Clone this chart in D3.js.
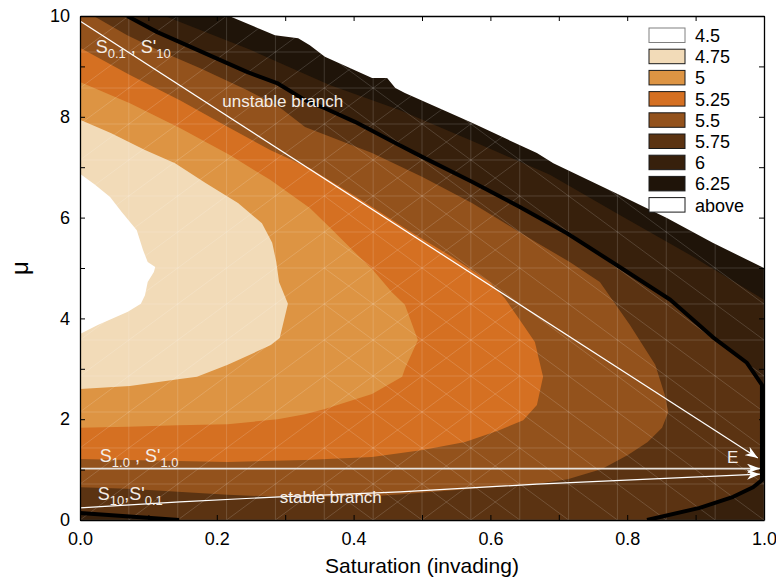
<!DOCTYPE html>
<html>
<head>
<meta charset="utf-8">
<script src="https://cdn.jsdelivr.net/npm/d3@7"></script>
<style>
  body { margin: 0; background: #fff; }
  svg { display: block; font-family: Arial, "Liberation Sans", Helvetica, sans-serif; }
</style>
</head>
<body>
<svg id="chart" width="776" height="581"></svg>
<script>
// legend classes (upper limits of each band)
const levels = ["4.5", "4.75", "5", "5.25", "5.5", "5.75", "6", "6.25", "above"];
const levelColors = ["#ffffff", "#f2dbb8", "#dd9443", "#d57022", "#93521c", "#5b3312", "#37200c", "#1f1409", "#ffffff"];

// ticks
const xTicks = [0, 0.1, 0.2, 0.3, 0.4, 0.5, 0.6, 0.7, 0.8, 0.9, 1.0];
const xLabels = [0, 0.2, 0.4, 0.6, 0.8, 1.0];
const yTicks = [0, 1, 2, 3, 4, 5, 6, 7, 8, 9, 10];
const yLabels = [0, 2, 4, 6, 8, 10];

// triangulation mesh nodes
const meshX = [0, 0.0714, 0.1429, 0.2143, 0.2857, 0.3571, 0.4286, 0.5, 0.5714, 0.6429, 0.7143, 0.7857, 0.8571, 0.9286, 1.0];
const meshY = [0, 0.714, 1.429, 2.143, 2.857, 3.571, 4.286, 5, 5.714, 6.429, 7.143, 7.857, 8.571, 9.286, 10];

// upper edge of the computed domain (white beyond)
const domainTop = [[0.218, 10], [0.285, 9.62], [0.319, 9.56], [0.336, 9.42], [0.358, 9.19], [0.427, 8.77],
  [0.449, 8.77], [0.461, 8.57], [0.475, 8.47], [0.573, 7.88], [0.668, 7.28], [0.692, 7.08], [0.789, 6.45],
  [0.858, 5.99], [0.925, 5.5], [1.0, 5.0]];

// contour 6 / 6.25
const edge6 = [[0.124, 10], [0.249, 9.33], [0.365, 8.63], [0.468, 8.13], [0.57, 7.54], [0.687, 6.85],
  [0.789, 6.05], [0.892, 5.26], [1.0, 4.37]];

// contour 5.75 / 6 (thick black line)
const edge575 = [[0.069, 10], [0.113, 9.68], [0.244, 8.89], [0.288, 8.67], [0.329, 8.33], [0.358, 8.17],
  [0.402, 7.9], [0.461, 7.48], [0.501, 7.2], [0.573, 6.71], [0.643, 6.21], [0.712, 5.69], [0.789, 5.02],
  [0.863, 4.37], [0.925, 3.63], [0.975, 3.12], [0.997, 2.68], [0.997, 0.79], [0.984, 0.65], [0.955, 0.46],
  [0.906, 0.24], [0.829, 0]];
const edge575Low = [[0, 0.14], [0.145, 0]];

// contour 5.5 / 5.75
const edge55 = [[0.02, 10], [0.069, 9.62], [0.113, 9.33], [0.175, 8.97], [0.244, 8.53], [0.288, 8.23],
  [0.329, 7.8], [0.427, 7.28], [0.5, 6.81], [0.573, 6.29], [0.668, 5.5], [0.716, 5.12], [0.76, 4.72],
  [0.804, 3.87], [0.841, 3.08], [0.855, 2.48], [0.86, 2.14], [0.851, 1.83], [0.83, 1.55], [0.801, 1.29],
  [0.763, 1.01], [0.713, 0.81], [0.665, 0.71], [0.573, 0.62], [0.5, 0.54], [0.439, 0.48], [0.365, 0.46],
  [0.289, 0.46], [0.216, 0.5], [0.143, 0.56], [0.07, 0.62], [0, 0.65]];

// contour 5.25 / 5.5
const edge525 = [[0, 9.37], [0.073, 8.83], [0.146, 8.33], [0.219, 7.78], [0.278, 7.34], [0.336, 6.98],
  [0.409, 6.37], [0.482, 5.73], [0.544, 5.22], [0.599, 4.72], [0.621, 4.4], [0.643, 3.97], [0.665, 3.53],
  [0.677, 2.84], [0.668, 2.28], [0.648, 1.98], [0.611, 1.77], [0.563, 1.55], [0.501, 1.39], [0.427, 1.25],
  [0.329, 1.19], [0.216, 1.15], [0.143, 1.17], [0.07, 1.19], [0, 1.21]];

// contour 5 / 5.25
const edge5 = [[0, 8.69], [0.073, 8.27], [0.146, 7.78], [0.219, 7.24], [0.278, 6.75], [0.336, 6.19],
  [0.365, 5.81], [0.398, 5.36], [0.427, 4.98], [0.456, 4.52], [0.475, 4.27], [0.494, 3.57], [0.475, 3.0],
  [0.471, 2.84], [0.427, 2.5], [0.358, 2.2], [0.329, 2.1], [0.289, 2.0], [0.216, 1.9], [0.143, 1.88],
  [0.07, 1.85], [0, 1.83]];

// contour 4.75 / 5
const edge475 = [[0, 7.94], [0.045, 7.68], [0.095, 7.34], [0.139, 7.08], [0.183, 6.69], [0.231, 6.29],
  [0.266, 5.89], [0.281, 5.5], [0.287, 5.12], [0.291, 4.72], [0.304, 4.29], [0.292, 3.61], [0.279, 3.47],
  [0.216, 3.08], [0.171, 2.84], [0.146, 2.8], [0.073, 2.66], [0, 2.6]];

// contour 4.5 / 4.75
const edge45 = [[0, 6.87], [0.022, 6.65], [0.044, 6.41], [0.061, 6.11], [0.083, 5.75], [0.092, 5.36],
  [0.099, 5.12], [0.11, 5.02], [0.108, 4.92], [0.099, 4.72], [0.095, 4.46], [0.089, 4.29], [0.07, 4.13],
  [0.026, 3.87], [0, 3.69]];

// branches
const unstableBranch = [[0, 9.9], [0.991, 1.23]];
const midBranch = [[0, 1.02], [0.994, 1.02]];
const stableBranch = [[0, 0.24], [0.146, 0.36], [0.292, 0.46], [0.468, 0.56], [0.668, 0.71], [0.994, 0.91]];

const svg = d3.select("#chart");
const x = d3.scaleLinear().domain([0, 1]).range([80, 764]);
const y = d3.scaleLinear().domain([0, 10]).range([520, 16]);
const line = d3.line().x((d) => x(d[0])).y((d) => y(d[1]));
const poly = (pts) => line(pts) + "Z";

svg.append("rect").attr("width", 776).attr("height", 581).attr("fill", "#fff");

const domainPoly = [[0, 0], [0, 10], ...domainTop, [1, 0]];

const defs = svg.append("defs");
defs.append("clipPath").attr("id", "plotClip")
  .append("rect").attr("x", x(0)).attr("y", y(10)).attr("width", x(1) - x(0)).attr("height", y(0) - y(10));
defs.append("clipPath").attr("id", "domainClip")
  .append("path").attr("d", poly(domainPoly));
defs.append("marker")
  .attr("id", "arrow")
  .attr("viewBox", "0 0 13 10")
  .attr("refX", 13).attr("refY", 5)
  .attr("markerWidth", 13).attr("markerHeight", 10)
  .attr("markerUnits", "userSpaceOnUse")
  .attr("orient", "auto")
  .append("path")
  .attr("d", "M0,0 L13,5 L0,10 L4,5 Z")
  .attr("fill", "#fff");

const plot = svg.append("g").attr("clip-path", "url(#plotClip)");

// bands, darkest first, each lighter set nested inside
const bands = [
  { pts: domainPoly, color: levelColors[7] },
  { pts: [[0, 0], [0, 10], ...edge6, [1, 0]], color: levelColors[6] },
  { pts: [[0, 10], ...edge575, ...edge575Low.slice().reverse()], color: levelColors[5] },
  { pts: [[0, 10], ...edge55], color: levelColors[4] },
  { pts: edge525, color: levelColors[3] },
  { pts: edge5, color: levelColors[2] },
  { pts: edge475, color: levelColors[1] },
  { pts: edge45, color: levelColors[0] },
];

plot.selectAll("path.band")
  .data(bands)
  .join("path")
  .attr("class", "band")
  .attr("d", (d) => poly(d.pts))
  .attr("fill", (d) => d.color);

// triangulation mesh
const segs = [];
meshX.forEach((mx) => segs.push([[mx, 0], [mx, 10]]));
meshY.forEach((my) => segs.push([[0, my], [1, my]]));
for (let i = 0; i < meshX.length - 1; i++) {
  for (let j = 0; j < meshY.length - 1; j++) {
    if (i <= 8) segs.push([[meshX[i], meshY[j]], [meshX[i + 1], meshY[j + 1]]]);
    if (i >= 5) segs.push([[meshX[i], meshY[j + 1]], [meshX[i + 1], meshY[j]]]);
  }
}
plot.append("g")
  .attr("clip-path", "url(#domainClip)")
  .selectAll("path")
  .data(segs)
  .join("path")
  .attr("d", line)
  .attr("stroke", "#fff")
  .attr("stroke-opacity", 0.22)
  .attr("stroke-width", 0.7)
  .attr("fill", "none");

// thick contour line
[edge575, edge575Low].forEach((pts) => {
  plot.append("path")
    .attr("d", line(pts))
    .attr("fill", "none")
    .attr("stroke", "#000")
    .attr("stroke-width", 4)
    .attr("stroke-linejoin", "round");
});

// branches
plot.append("path").attr("d", line(unstableBranch))
  .attr("fill", "none").attr("stroke", "#fff").attr("stroke-width", 1.2)
  .attr("marker-end", "url(#arrow)");
plot.append("path").attr("d", line(midBranch))
  .attr("fill", "none").attr("stroke", "#e6e1dc").attr("stroke-width", 1.6)
  .attr("marker-end", "url(#arrow)");
plot.append("path").attr("d", line(stableBranch))
  .attr("fill", "none").attr("stroke", "#fff").attr("stroke-width", 1.2)
  .attr("marker-end", "url(#arrow)");

// labels
const labelColor = "#f4eee8";
function subLabel(parts, px, py) {
  const t = svg.append("text")
    .attr("x", x(px)).attr("y", y(py))
    .attr("fill", labelColor);
  let cur = 0;
  parts.forEach(([s, isSub]) => {
    const target = isSub ? 5 : 0;
    t.append("tspan")
      .attr("dy", target - cur)
      .attr("font-size", isSub ? 13 : 18)
      .text(s);
    cur = target;
  });
}
subLabel([["S", 0], ["0.1", 1], [" , S'", 0], ["10", 1]], 0.023, 9.27);
subLabel([["S", 0], ["1.0", 1], [" , S'", 0], ["1.0", 1]], 0.029, 1.15);
subLabel([["S", 0], ["10", 1], [",S'", 0], ["0.1", 1]], 0.026, 0.4);

svg.append("text").attr("x", x(0.208)).attr("y", y(8.19))
  .attr("font-size", 17).attr("fill", labelColor).text("unstable branch");
svg.append("text").attr("x", x(0.292)).attr("y", y(0.34))
  .attr("font-size", 17).attr("fill", labelColor).text("stable branch");
svg.append("text").attr("x", x(0.946)).attr("y", y(1.13))
  .attr("font-size", 17).attr("fill", labelColor).text("E");

// axes, ticks inside
const fmt = d3.format(".1f");
const xAxisG = svg.append("g")
  .attr("transform", `translate(0,${y(0)})`)
  .call(d3.axisBottom(x).tickValues(xTicks).tickSizeInner(-5).tickSizeOuter(0).tickPadding(12)
    .tickFormat((d) => (xLabels.some((v) => Math.abs(v - d) < 1e-9) ? fmt(d) : "")));
const yAxisG = svg.append("g")
  .attr("transform", `translate(${x(0)},0)`)
  .call(d3.axisLeft(y).tickValues(yTicks).tickSizeInner(-5).tickSizeOuter(0).tickPadding(10)
    .tickFormat((d) => (yLabels.includes(d) ? d : "")));
const topG = svg.append("g")
  .attr("transform", `translate(0,${y(10)})`)
  .call(d3.axisTop(x).tickValues(xTicks).tickSizeInner(-5).tickSizeOuter(0).tickFormat(""));
const rightG = svg.append("g")
  .attr("transform", `translate(${x(1)},0)`)
  .call(d3.axisRight(y).tickValues(yTicks).tickSizeInner(-5).tickSizeOuter(0).tickFormat(""));

[xAxisG, yAxisG, topG, rightG].forEach((g) => {
  g.select(".domain").attr("stroke", "#000").attr("stroke-width", 1.3);
  g.selectAll(".tick line").attr("stroke", "#000").attr("stroke-width", 1);
  g.selectAll(".tick text").attr("font-size", 18).attr("fill", "#000")
    .attr("font-family", "Arial, 'Liberation Sans', sans-serif");
});

svg.append("text")
  .attr("x", x(0.5)).attr("y", 573)
  .attr("text-anchor", "middle")
  .attr("font-size", 21)
  .text("Saturation (invading)");

svg.append("text")
  .attr("transform", `translate(28,${(y(0) + y(10)) / 2}) rotate(-90)`)
  .attr("text-anchor", "middle")
  .attr("font-size", 24)
  .text("μ");

// legend
const legend = svg.append("g").attr("transform", "translate(649,28)");
const items = legend.selectAll("g")
  .data(levels.map((l, i) => ({ label: l, color: levelColors[i], i })))
  .join("g")
  .attr("transform", (d) => `translate(0,${d.i * 21.2})`);
items.append("rect")
  .attr("width", 36).attr("height", 14.5)
  .attr("fill", (d) => d.color)
  .attr("stroke", (d) => (d.i === 0 ? "#808080" : "#1a1a1a"))
  .attr("stroke-width", 1);
items.append("text")
  .attr("x", 46).attr("y", 14)
  .attr("font-size", 18)
  .text((d) => d.label);
</script>
</body>
</html>
